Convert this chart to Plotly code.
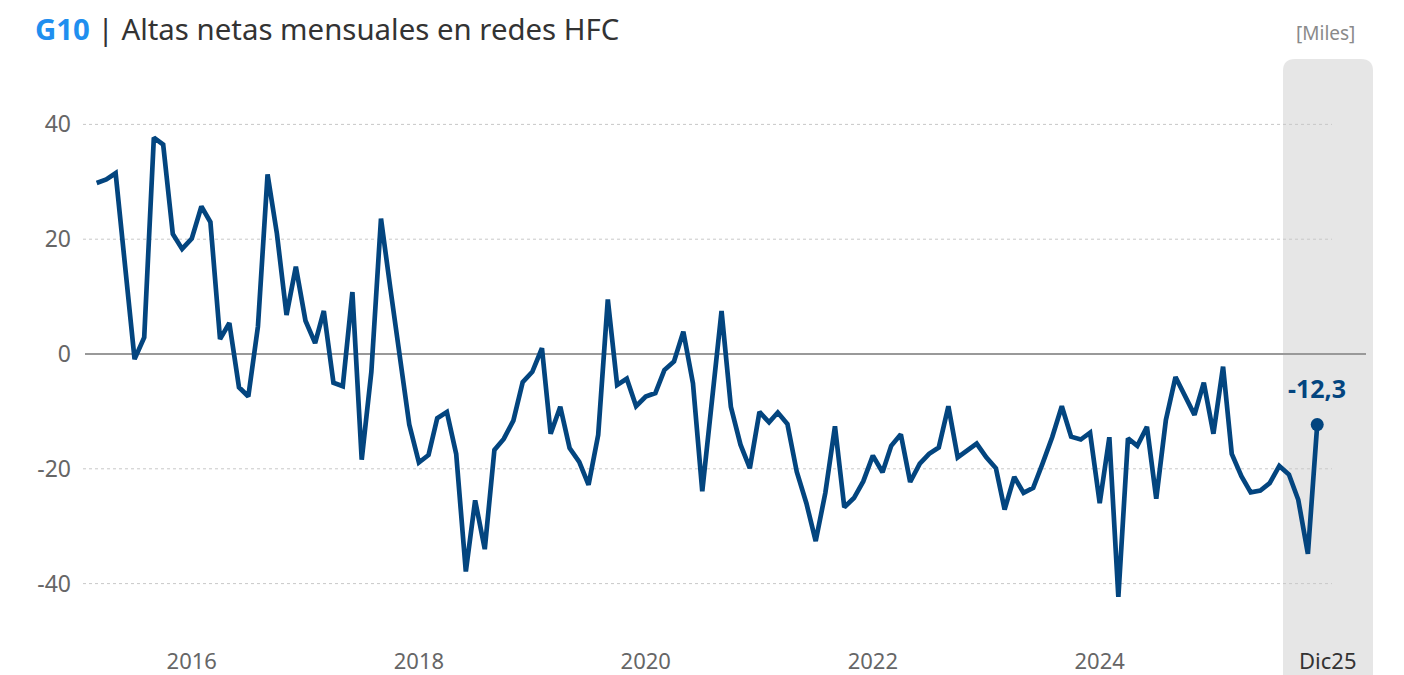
import pandas as pd
import plotly.graph_objects as go

# ---- data (thousands, monthly, Mar 2015 - Dec 2025) ----
start_month = "2015-03-01"
values = [
    29.8, 30.4, 31.5, 15.2, -0.9, 2.9, 37.7, 36.5, 20.9, 18.3,
    20.1, 25.7, 23.0, 2.6, 5.4, -5.8, -7.4, 4.8, 31.3, 21.0,
    6.8, 15.2, 5.8, 1.9, 7.5, -5.0, -5.6, 10.8, -18.4, -3.1,
    23.6, 11.5, -0.5, -12.3, -18.9, -17.6, -11.2, -10.1, -17.4, -37.9,
    -25.5, -34.0, -16.7, -14.8, -11.6, -4.9, -3.1, 1.0, -13.9, -9.2,
    -16.4, -18.8, -22.8, -14.1, 9.5, -5.4, -4.3, -9.1, -7.4, -6.8,
    -2.8, -1.3, 3.9, -5.1, -23.9, -7.7, 7.5, -9.2, -15.8, -19.9,
    -10.1, -11.9, -10.2, -12.2, -20.5, -26.0, -32.6, -24.2, -12.6, -26.7,
    -25.1, -22.2, -17.7, -20.6, -16.0, -14.0, -22.3, -19.1, -17.4, -16.3,
    -9.1, -18.0, -16.7, -15.6, -18.0, -19.9, -27.1, -21.4, -24.2, -23.3,
    -19.1, -14.5, -9.1, -14.4, -14.9, -13.7, -26.0, -14.5, -42.3, -14.7,
    -16.0, -12.7, -25.2, -11.5, -4.0, -7.3, -10.6, -5.0, -13.9, -2.2,
    -17.4, -21.3, -24.1, -23.8, -22.5, -19.5, -21.0, -25.4, -34.8, -12.3,
]
dates = pd.date_range(start_month, periods=len(values), freq="MS")

year_ticks = ["2016-01-01", "2018-01-01", "2020-01-01", "2022-01-01", "2024-01-01"]
year_labels = ["2016", "2018", "2020", "2022", "2024"]
y_ticks = [-40, -20, 0, 20, 40]
y_labels = ["-40", "-20", "0", "20", "40"]
last_label = "Dic25"
unit_label = "[Miles]"

LINE = "#03457f"
FONT = "Segoe UI, Noto Sans, Open Sans, sans-serif"

W, H = 1404, 675
L, R, T, B = 83, 38, 67, 34
pw, ph = W - L - R, H - T - B


def px_x(p):
    return (p - L) / pw


def px_y(p):
    return (H - B - p) / ph


fig = go.Figure()
fig.add_trace(go.Scatter(
    x=dates, y=values, mode="lines",
    line=dict(color=LINE, width=4.7),
    hoverinfo="skip", showlegend=False,
))
fig.add_trace(go.Scatter(
    x=[dates[-1]], y=[values[-1]], mode="markers",
    marker=dict(color=LINE, size=13),
    hoverinfo="skip", showlegend=False,
))

shapes = []
# highlight band with rounded top corners
x0, x1 = px_x(1283), px_x(1373)
yt, yb = px_y(59), px_y(680)
rx, ry = 12 / pw, 12 / ph
shapes.append(dict(
    type="path", xref="paper", yref="paper", layer="below",
    path=(f"M {x0},{yb} L {x0},{yt - ry} Q {x0},{yt} {x0 + rx},{yt} "
          f"L {x1 - rx},{yt} Q {x1},{yt} {x1},{yt - ry} L {x1},{yb} Z"),
    fillcolor="#e6e6e6", line=dict(width=0),
))
# dotted gridlines
for v in y_ticks:
    if v == 0:
        continue
    shapes.append(dict(
        type="line", xref="paper", yref="y", layer="below",
        x0=0, x1=px_x(1332), y0=v, y1=v,
        line=dict(color="#c8c8c8", width=1, dash="dot"),
    ))
# zero line
shapes.append(dict(
    type="line", xref="paper", yref="y", layer="below",
    x0=px_x(85), x1=1, y0=0, y1=0,
    line=dict(color="#999999", width=2),
))

annotations = [
    dict(x=dates[-1], y=values[-1], xref="x", yref="y",
         text=f"<b>{values[-1]:.1f}</b>".replace(".", ","),
         showarrow=False, yshift=37,
         font=dict(family=FONT, size=25, color=LINE)),
    dict(x=px_x(1327), y=px_y(660), xref="paper", yref="paper",
         text=last_label, showarrow=False, xanchor="center", yanchor="middle",
         font=dict(family=FONT, size=22, color="#333333")),
    dict(x=px_x(1357), y=px_y(33), xref="paper", yref="paper",
         text=unit_label, showarrow=False, xanchor="right", yanchor="middle",
         font=dict(family=FONT, size=19, color="#8a8a8a")),
]

fig.update_layout(
    width=W, height=H,
    margin=dict(l=L, r=R, t=T, b=B, autoexpand=False),
    paper_bgcolor="white", plot_bgcolor="white",
    title=dict(
        text="<b><span style='color:#1f8fef'>G10</span></b> | Altas netas mensuales en redes HFC",
        x=35 / W, xanchor="left", xref="container",
        y=1 - 30 / H, yanchor="middle", yref="container",
        font=dict(family=FONT, size=29.4, color="#333333"),
    ),
    xaxis=dict(
        type="date", range=["2015-01-16", "2026-05-07"],
        tickvals=year_ticks, ticktext=year_labels,
        showgrid=False, zeroline=False, showline=False, ticks="",
        ticklabelstandoff=5, automargin=False,
        tickfont=dict(family=FONT, size=22, color="#666666"),
    ),
    yaxis=dict(
        range=[-50, 50], tickvals=y_ticks, ticktext=y_labels,
        showgrid=False, zeroline=False, showline=False, ticks="",
        ticklabelstandoff=11, automargin=False,
        tickfont=dict(family=FONT, size=23, color="#666666"),
    ),
    shapes=shapes,
    annotations=annotations,
)

fig.write_html(
    "out.html",
    config={"displayModeBar": False},
    post_script="document.body.style.margin='0';document.body.style.overflow='hidden';",
)
